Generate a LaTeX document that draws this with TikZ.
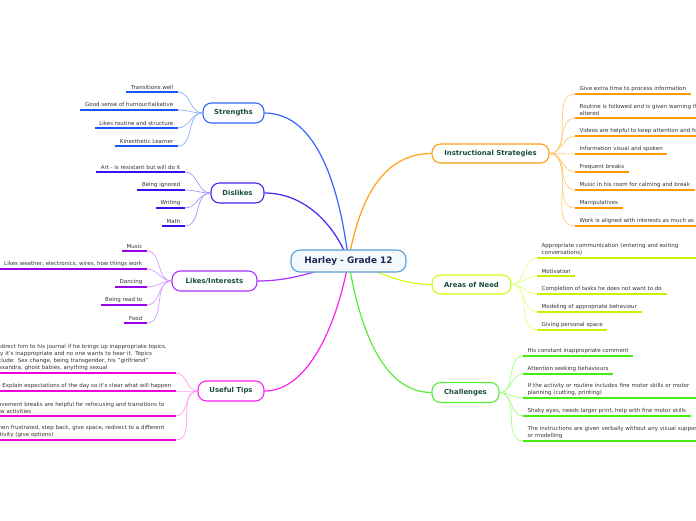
\documentclass[tikz,border=0pt]{standalone}
\usepackage{fontspec}
\setmainfont{DejaVu Sans}
\usetikzlibrary{backgrounds}
\definecolor{brtext}{HTML}{1B4D3E}
\definecolor{leaftext}{HTML}{333333}
\definecolor{ctext}{HTML}{1A2A50}
\definecolor{cborder}{HTML}{5AA0D8}
\definecolor{cfill}{HTML}{F3F8FD}
% strengths
\definecolor{stM}{HTML}{3366FF}
\definecolor{stU}{HTML}{1A55FF}
\definecolor{stL}{HTML}{8FAEFF}
% dislikes
\definecolor{diM}{HTML}{4A22F0}
\definecolor{diU}{HTML}{3311F0}
\definecolor{diL}{HTML}{A595FF}
% likes
\definecolor{liM}{HTML}{AA33FF}
\definecolor{liU}{HTML}{9900EE}
\definecolor{liL}{HTML}{D399FF}
% useful tips
\definecolor{utM}{HTML}{FF22EE}
\definecolor{utU}{HTML}{EE00DD}
\definecolor{utL}{HTML}{FF99F5}
% instructional
\definecolor{isM}{HTML}{FFA011}
\definecolor{isU}{HTML}{FF9900}
\definecolor{isL}{HTML}{FFCC77}
% areas of need
\definecolor{anM}{HTML}{CCFF11}
\definecolor{anU}{HTML}{C4F500}
\definecolor{anL}{HTML}{E0FF88}
% challenges
\definecolor{chM}{HTML}{55EE33}
\definecolor{chU}{HTML}{44EE11}
\definecolor{chL}{HTML}{A0FF80}
\tikzset{
  branch/.style={draw=#1, line width=1.1pt, rounded corners=8.5pt, fill=white,
    minimum height=20pt, inner xsep=3pt, text=brtext,
    font=\bfseries\fontsize{6.9}{8}\selectfont},
  centre/.style={draw=cborder, line width=1.1pt, rounded corners=9pt, fill=cfill,
    minimum height=22pt, minimum width=115pt, text=ctext,
    font=\bfseries\fontsize{8.9}{10}\selectfont},
  leaf/.style={inner xsep=4.5pt, inner ysep=2.6pt, text=leaftext, align=left,
    font=\fontsize{5.5}{6.9}\selectfont},
  lleaf/.style={leaf, anchor=south east},
  rleaf/.style={leaf, anchor=south west},
  wide/.style={text width=178pt},
  underl/.style={draw=#1, line width=2pt},
  mainc/.style={draw=#1, line width=1.2pt},
  leafc/.style={draw=#1, line width=0.7pt},
}
\begin{document}
\begin{tikzpicture}[x=1pt,y=-1pt]
\useasboundingbox (0,0) rectangle (696,520);
\clip (0,0) rectangle (696,520);
% ---------- centre and branches
\node[centre] (c) at (348.5,261) {Harley - Grade 12};
\node[branch=stM, minimum width=61pt] (st) at (233.5,113) {Strengths};
\node[branch=diM, minimum width=53pt] (di) at (237.5,193) {Dislikes};
\node[branch=liM, minimum width=85pt] (li) at (214.5,281) {Likes/Interests};
\node[branch=utM, minimum width=66pt] (ut) at (231,391) {Useful Tips};
\node[branch=isM, minimum width=117pt, minimum height=19pt] (is) at (490.5,153.5) {Instructional Strategies};
\node[branch=anM, minimum width=79pt, minimum height=19pt] (an) at (471.5,284.5) {Areas of Need};
\node[branch=chM, minimum width=67pt] (ch) at (465.5,392.5) {Challenges};
\begin{scope}[on background layer]
\draw[mainc=stM] (st.east) .. controls (318,113) and (340,190) .. (c.center);
\draw[mainc=diM] (di.east) .. controls (305,193) and (335,225) .. (c.center);
\draw[mainc=liM] (li.east) .. controls (290,281) and (315,272) .. (c.center);
\draw[mainc=utM] (ut.east) .. controls (310,391) and (338,320) .. (c.center);
\draw[mainc=isM] (is.west) .. controls (380,153.5) and (358,205) .. (c.center);
\draw[mainc=anM] (an.west) .. controls (400,284.5) and (380,272) .. (c.center);
\draw[mainc=chM] (ch.west) .. controls (380,392.5) and (358,320) .. (c.center);
\end{scope}
% ---------- Strengths leaves
\node[lleaf] (s1) at (178,92) {Transitions well};
\node[lleaf] (s2) at (178,110) {Good sense of humour/talkative};
\node[lleaf] (s3) at (178,128) {Likes routine and structure};
\node[lleaf] (s4) at (178,146) {Kinesthetic Learner};
\foreach \n in {s1,s2,s3,s4}{
  \draw[leafc=stL] (st.west) to[out=180,in=0] (\n.south east);
}
\foreach \n in {s1,s2,s3,s4}{
  \draw[underl=stU] (\n.south west) -- (\n.south east);
}
% ---------- Dislikes leaves
\node[lleaf] (d1) at (185,172) {Art - is resistant but will do it};
\node[lleaf] (d2) at (185,190) {Being ignored};
\node[lleaf] (d3) at (185,208) {Writing};
\node[lleaf] (d4) at (185,226) {Math};
\foreach \n in {d1,d2,d3,d4}{
  \draw[leafc=diL] (di.west) to[out=180,in=0] (\n.south east);
}
\foreach \n in {d1,d2,d3,d4}{
  \draw[underl=diU] (\n.south west) -- (\n.south east);
}
% ---------- Likes leaves
\node[lleaf] (l1) at (147,251) {Music};
\node[lleaf] (l2) at (147,269) {Likes weather, electronics, wires, how things work};
\node[lleaf] (l3) at (147,287) {Dancing};
\node[lleaf] (l4) at (147,305) {Being read to};
\node[lleaf] (l5) at (147,323) {Food};
\foreach \n in {l1,l2,l3,l4,l5}{
  \draw[leafc=liL] (li.west) to[out=180,in=0] (\n.south east);
}
\foreach \n in {l1,l2,l3,l4,l5}{
  \draw[underl=liU] (\n.south west) -- (\n.south east);
}
% ---------- Useful tips leaves
\node[lleaf, wide] (u1) at (176,373) {Redirect him to his journal if he brings up inappropriate topics.\\Say it's inappropriate and no one wants to hear it. Topics\\include: Sex change, being transgender, his "girlfriend"\\Alexandra, ghost babies, anything sexual};
\node[lleaf] (u2) at (176,391) {Explain expectations of the day so it's clear what will happen};
\node[lleaf, wide] (u3) at (176,416) {Movement breaks are helpful for refocusing and transitions to\\new activities};
\node[lleaf, wide] (u4) at (176,440) {When frustrated, step back, give space, redirect to a different\\activity (give options)};
\foreach \n in {u1,u2,u3,u4}{
  \draw[leafc=utL] (ut.west) to[out=180,in=0] (\n.south east);
}
\foreach \n in {u1,u2,u3,u4}{
  \draw[underl=utU] (\n.south west) -- (\n.south east);
}
% ---------- Instructional strategies leaves
\node[rleaf] (i1) at (575,94) {Give extra time to process information};
\node[rleaf, wide] (i2) at (575,118) {Routine is followed and is given warning if it is\\altered};
\node[rleaf] (i3) at (575,136) {Videos are helpful to keep attention and focus};
\node[rleaf] (i4) at (575,154) {Information visual and spoken};
\node[rleaf] (i5) at (575,172) {Frequent breaks};
\node[rleaf] (i6) at (575,190) {Music in his room for calming and break};
\node[rleaf] (i7) at (575,208) {Manipulatives};
\node[rleaf] (i8) at (575,226) {Work is aligned with interests as much as possible};
\foreach \n in {i1,i2,i3,i4,i5,i6,i7,i8}{
  \draw[leafc=isL] (is.east) to[out=0,in=180] (\n.south west);
}
\foreach \n in {i1,i2,i3,i4,i5,i6,i7,i8}{
  \draw[underl=isU] (\n.south west) -- (\n.south east);
}
% ---------- Areas of need leaves
\node[rleaf, wide] (a1) at (537,258) {Appropriate communication (entering and exiting\\conversations)};
\node[rleaf] (a2) at (537,276) {Motivation};
\node[rleaf] (a3) at (537,294) {Completion of tasks he does not want to do};
\node[rleaf] (a4) at (537,312) {Modeling of appropriate behaviour};
\node[rleaf] (a5) at (537,330) {Giving personal space};
\foreach \n in {a1,a2,a3,a4,a5}{
  \draw[leafc=anL] (an.east) to[out=0,in=180] (\n.south west);
}
\foreach \n in {a1,a2,a3,a4,a5}{
  \draw[underl=anU] (\n.south west) -- (\n.south east);
}
% ---------- Challenges leaves
\node[rleaf] (c1) at (523,356) {His constant inappropriate comment};
\node[rleaf] (c2) at (523,374) {Attention seeking behaviours};
\node[rleaf, wide] (c3) at (523,398) {If the activity or routine includes fine motor skills or motor\\planning (cutting, printing)};
\node[rleaf] (c4) at (523,416) {Shaky eyes, needs larger print, help with fine motor skills};
\node[rleaf, wide] (c5) at (523,441) {The instructions are given verbally without any visual support\\or modelling};
\foreach \n in {c1,c2,c3,c4,c5}{
  \draw[leafc=chL] (ch.east) to[out=0,in=180] (\n.south west);
}
\foreach \n in {c1,c2,c3,c4,c5}{
  \draw[underl=chU] (\n.south west) -- (\n.south east);
}
\end{tikzpicture}
\end{document}
